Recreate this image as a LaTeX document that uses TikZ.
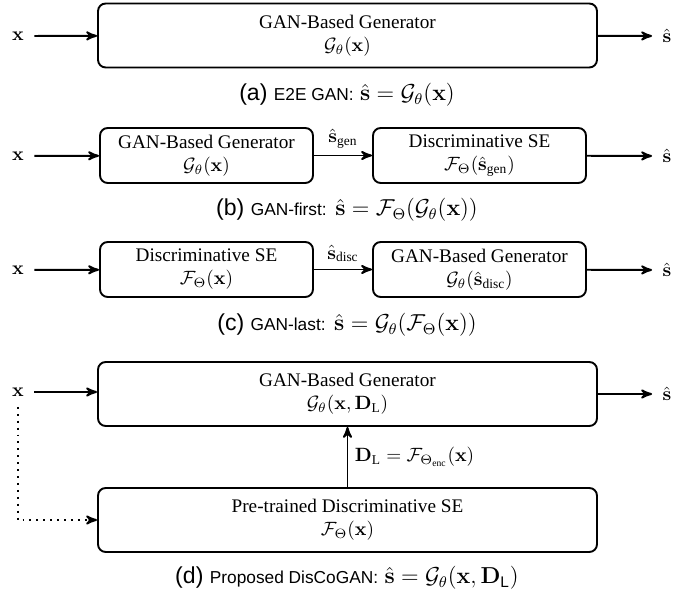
\documentclass[tikz,border=0pt]{standalone}
\usepackage{amsmath}
\usepackage[no-math]{fontspec}
\setmainfont{Liberation Serif}
\setsansfont{Liberation Sans}
\usetikzlibrary{arrows}

\newcommand{\subcap}[2]{(#1) {\small #2}}

\begin{document}
\begin{tikzpicture}[>=stealth',line width=1pt,x=0.01828cm,y=-0.01828cm,
  wide/.style={draw,rounded corners=4pt,align=center,minimum width=499*0.01828cm,minimum height=64*0.01828cm},
  half/.style={draw,rounded corners=4pt,align=center,minimum width=213*0.01828cm,minimum height=55*0.01828cm},
  lbl/.style={inner sep=5pt},
  caption/.style={font=\sffamily\large},
  dots/.style={dash pattern=on 1pt off 2.6pt}]
  \useasboundingbox (0,0) rectangle (685,593);

  % (a) E2E GAN
  \node[wide] (ga) at (347.5,35.5) {GAN-Based Generator\\ $\mathcal{G}_\theta(\mathbf{x})$};
  \node[lbl] (xa) at (18,36) {$\mathbf{x}$};
  \node[lbl] (sa) at (667,36) {$\hat{\mathbf{s}}$};
  \draw[->] (xa) -- (ga);
  \draw[->] (ga) -- (sa);
  \node[caption] (capa) at (347,95) {\subcap{a}{E2E GAN:} $\hat{\mathbf{s}}=\mathcal{G}_\theta(\mathbf{x})$};

  % (b) GAN-first
  \node[half] (gb) at (206.5,155.5) {GAN-Based Generator\\ $\mathcal{G}_\theta(\mathbf{x})$};
  \node[half] (fb) at (479.5,155.5) {Discriminative SE\\ $\mathcal{F}_\Theta(\hat{\mathbf{s}}_{\text{gen}})$};
  \node[lbl] (xb) at (18,156) {$\mathbf{x}$};
  \node[lbl] (sb) at (667,156) {$\hat{\mathbf{s}}$};
  \draw[->] (xb) -- (gb);
  \draw[->] (gb) -- node[above] {$\hat{\mathbf{s}}_{\text{gen}}$} (fb);
  \draw[->] (fb) -- (sb);
  \node[caption] (capb) at (347,210) {\subcap{b}{GAN-first:} $\hat{\mathbf{s}}=\mathcal{F}_\Theta(\mathcal{G}_\theta(\mathbf{x}))$};

  % (c) GAN-last
  \node[half] (fc) at (206.5,269.5) {Discriminative SE\\ $\mathcal{F}_\Theta(\mathbf{x})$};
  \node[half] (gc) at (479.5,269.5) {GAN-Based Generator\\ $\mathcal{G}_\theta(\hat{\mathbf{s}}_{\text{disc}})$};
  \node[lbl] (xc) at (18,270) {$\mathbf{x}$};
  \node[lbl] (sc) at (667,270) {$\hat{\mathbf{s}}$};
  \draw[->] (xc) -- (fc);
  \draw[->] (fc) -- node[above] {$\hat{\mathbf{s}}_{\text{disc}}$} (gc);
  \draw[->] (gc) -- (sc);
  \node[caption] (capc) at (347,325) {\subcap{c}{GAN-last:} $\hat{\mathbf{s}}=\mathcal{G}_\theta(\mathcal{F}_\Theta(\mathbf{x}))$};

  % (d) DisCoGAN
  \node[wide] (gd) at (347.5,394) {GAN-Based Generator\\ $\mathcal{G}_\theta(\mathbf{x},\mathbf{D}_{\text{L}})$};
  \node[wide] (pd) at (347.5,520) {Pre-trained Discriminative SE\\ $\mathcal{F}_\Theta(\mathbf{x})$};
  \node[lbl] (xd) at (18,392) {$\mathbf{x}$};
  \node[lbl] (sd) at (667,394) {$\hat{\mathbf{s}}$};
  \draw[->] (xd) -- (gd.west |- xd);
  \draw[->] (gd) -- (sd);
  \draw[->] (pd) -- node[right] {$\mathbf{D}_{\text{L}}=\mathcal{F}_{\Theta_{\text{enc}}}(\mathbf{x})$} (gd);
  \draw[->,dots] (xd) |- (pd);
  \node[caption] (capd) at (347,578) {\subcap{d}{Proposed DisCoGAN:} $\hat{\mathbf{s}}=\mathcal{G}_\theta(\mathbf{x},\mathbf{D}_{\text{L}})$};
\end{tikzpicture}
\end{document}
